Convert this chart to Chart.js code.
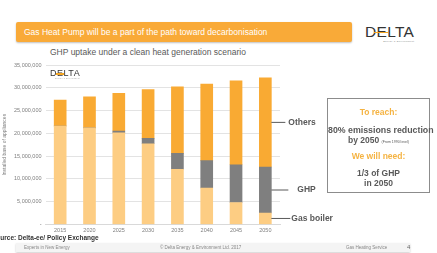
<!DOCTYPE html>
<html>
<head>
<meta charset="utf-8">
<script src="https://cdn.jsdelivr.net/npm/chart.js@4"></script>
<style>
  html, body { margin: 0; padding: 0; background: #fff; }
  body { width: 437px; height: 253px; position: relative; overflow: hidden; font-family: 'Liberation Sans', Arial, sans-serif; }
  .banner { position: absolute; left: 16px; top: 22px; width: 336px; height: 20px; background: #f9aa38; border-radius: 2px;
            box-shadow: 0 1px 2px rgba(0,0,0,0.25); color: #fff; font-size: 8.5px; line-height: 20px; padding-left: 8px; box-sizing: border-box; }
  .logo { position: absolute; color: #333; font-weight: normal; letter-spacing: 0.5px; }
  .logo .e { position: relative; }
  .logo .e::after { content: ''; position: absolute; left: -20%; right: -10%; top: 52%; height: 1.5px; background: #f5a623; }
  .logo small { display: block; text-align: right; color: #888; }
  .chart-title { position: absolute; left: 50px; top: 47px; font-size: 8.5px; color: #595959; }
  #wrap { position: absolute; left: 0; top: 53px; width: 345px; height: 184px; }
  .box { position: absolute; left: 327px; top: 98px; width: 103px; height: 95px; border: 1px solid #8c8c8c; box-sizing: border-box;
         text-align: center; color: #595959; font-weight: bold; font-size: 8.5px; }
  .box .o { color: #f5b342; }
  .box .tiny { font-size: 3.5px; font-weight: normal; }
  .source { position: absolute; left: -8px; top: 234px; font-size: 6.5px; font-weight: bold; color: #333; }
  .footer { position: absolute; left: 16px; top: 243px; width: 394px; height: 9px; background: #f4f4f4; box-shadow: 0 1px 2px rgba(0,0,0,0.2);
            font-size: 4.5px; color: #888; line-height: 9px; }
  .footer span { position: absolute; }
</style>
</head>
<body>
<div class="banner">Gas Heat Pump will be a part of the path toward decarbonisation</div>
<div class="logo" style="left:365px; top:23px; font-size:15.5px; line-height:17px; letter-spacing:0.3px;">D<span class="e">E</span>LTA<small style="font-size:2.5px; line-height:4px;">Energy &amp; Environment</small></div>
<div class="chart-title">GHP uptake under a clean heat generation scenario</div>
<div id="wrap"><canvas id="chart"></canvas></div>
<div class="logo" style="left:50px; top:68px; font-size:9px; line-height:10px;">D<span class="e">E</span>LTA<small style="font-size:1.5px; line-height:2px;">Energy &amp; Environment</small></div>
<div class="box">
  <div class="o" style="margin-top:8px;">To reach:</div>
  <div style="margin-top:8px; font-size:8.8px; white-space:nowrap;">80% emissions reduction</div>
  <div>by 2050 <span class="tiny">(From 1990 level)</span></div>
  <div class="o" style="margin-top:6px;">We will need:</div>
  <div style="margin-top:7px;">1/3 of GHP</div>
  <div>in 2050</div>
</div>
<div class="source">Source: Delta-ee/ Policy Exchange</div>
<div class="footer">
  <span style="left:8px;">Experts in New Energy</span>
  <span style="left:144px;">© Delta Energy &amp; Environment Ltd. 2017</span>
  <span style="left:330px;">Gas Heating Service</span>
  <span style="left:391px; font-size:6px; color:#666;">4</span>
</div>
<script>
const years = ['2015', '2020', '2025', '2030', '2035', '2040', '2045', '2050'];
const gasBoiler = [21600000, 21200000, 20100000, 17700000, 12100000, 8000000, 4800000, 2500000];
const ghp = [0, 0, 400000, 1200000, 3500000, 6000000, 8300000, 10100000];
const others = [5700000, 6800000, 8300000, 10700000, 14600000, 16800000, 18400000, 19600000];
const seriesNames = ['Gas boiler', 'GHP', 'Others'];
const yTicks = [0, 5000000, 10000000, 15000000, 20000000, 25000000, 30000000, 35000000];

// labels pointing at the last bar's segments
const lineLen = [19, 17, 14];
const textGap = [20, 26, 17];
const sideLabels = {
  id: 'sideLabels',
  afterDatasetsDraw(chart) {
    const ctx = chart.ctx;
    ctx.save();
    chart.data.datasets.forEach((ds, i) => {
      const meta = chart.getDatasetMeta(i);
      const bar = meta.data[meta.data.length - 1];
      const y = (bar.y + bar.base) / 2;
      const x0 = bar.x + bar.width / 2;
      ctx.strokeStyle = '#595959';
      ctx.lineWidth = 1;
      ctx.beginPath();
      ctx.moveTo(x0, y);
      ctx.lineTo(x0 + lineLen[i], y);
      ctx.stroke();
      ctx.fillStyle = '#595959';
      ctx.font = 'bold 8.5px "Liberation Sans", Arial, sans-serif';
      ctx.textBaseline = 'middle';
      ctx.fillText(ds.label, x0 + textGap[i], y);
    });
    ctx.restore();
  }
};

new Chart(document.getElementById('chart'), {
  type: 'bar',
  data: {
    labels: years,
    datasets: [
      { label: seriesNames[0], data: gasBoiler, backgroundColor: '#fdcd83' },
      { label: seriesNames[1], data: ghp, backgroundColor: '#7f7f7f' },
      { label: seriesNames[2], data: others, backgroundColor: '#f9aa33' }
    ]
  },
  options: {
    responsive: true,
    maintainAspectRatio: false,
    animation: false,
    layout: { padding: { top: 12, right: 65, left: 0, bottom: 0 } },
    plugins: { legend: { display: false }, tooltip: { enabled: false } },
    datasets: { bar: { barThickness: 12 } },
    scales: {
      x: {
        stacked: true,
        grid: { display: false, drawTicks: false, tickLength: 0 },
        border: { color: '#d9d9d9' },
        ticks: { color: '#7f7f7f', font: { size: 5.5 }, padding: 3 }
      },
      y: {
        stacked: true,
        min: 0,
        max: 35000000,
        afterBuildTicks: (axis) => { axis.ticks = yTicks.map(v => ({ value: v })); },
        grid: { color: '#e3e3e3', drawTicks: false },
        border: { display: false },
        ticks: {
          color: '#7f7f7f', font: { size: 5.5 }, padding: 4,
          callback: (v) => v === 0 ? '-' : v.toLocaleString('en-US')
        },
        title: { display: true, text: 'Installed base of appliances', color: '#7f7f7f', font: { size: 5 }, padding: 2 }
      }
    }
  },
  plugins: [sideLabels]
});
</script>
</body>
</html>
